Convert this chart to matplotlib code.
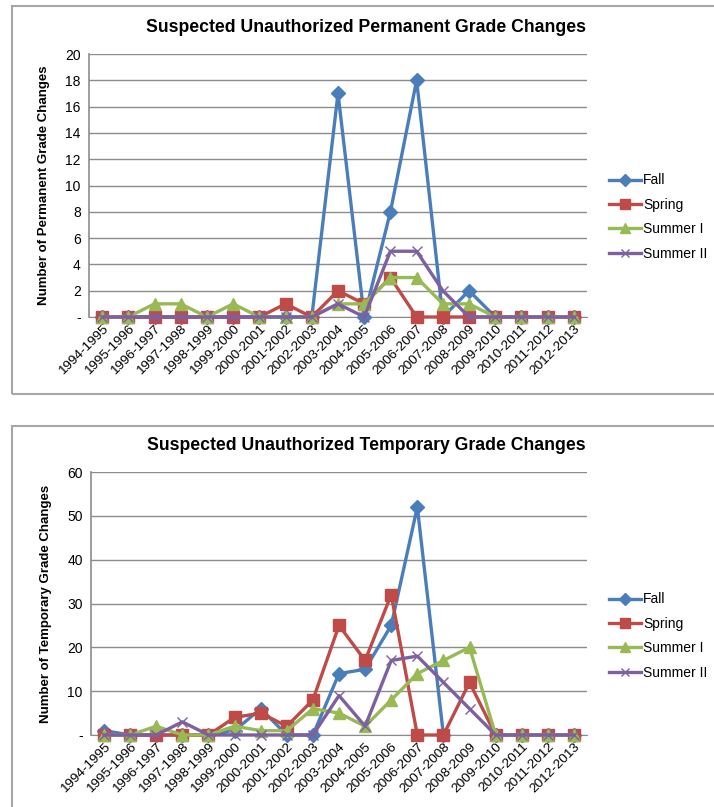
import matplotlib
matplotlib.use("Agg")
import matplotlib.pyplot as plt
from matplotlib.patches import Rectangle

plt.rcParams['font.family'] = ['Liberation Sans', 'DejaVu Sans']

years = ["1994-1995", "1995-1996", "1996-1997", "1997-1998", "1998-1999", "1999-2000",
         "2000-2001", "2001-2002", "2002-2003", "2003-2004", "2004-2005", "2005-2006",
         "2006-2007", "2007-2008", "2008-2009", "2009-2010", "2010-2011", "2011-2012",
         "2012-2013"]
series_names = ["Fall", "Spring", "Summer I", "Summer II"]

perm_fall = [0, 0, 0, 0, 0, 0, 0, 0, 0, 17, 0, 8, 18, 0, 2, 0, 0, 0, 0]
perm_spring = [0, 0, 0, 0, 0, 0, 0, 1, 0, 2, 1, 3, 0, 0, 0, 0, 0, 0, 0]
perm_summer1 = [0, 0, 1, 1, 0, 1, 0, 0, 0, 1, 1, 3, 3, 1, 1, 0, 0, 0, 0]
perm_summer2 = [0, 0, 0, 0, 0, 0, 0, 0, 0, 1, 0, 5, 5, 2, 0, 0, 0, 0, 0]

temp_fall = [1, 0, 0, 0, 0, 1, 6, 0, 0, 14, 15, 25, 52, 0, None, 0, 0, 0, 0]
temp_spring = [0, 0, 0, 0, 0, 4, 5, 2, 8, 25, 17, 32, 0, 0, 12, 0, 0, 0, 0]
temp_summer1 = [0, 0, 2, 0, 0, 2, 1, 1, 6, 5, 2, 8, 14, 17, 20, 0, 0, 0, 0]
temp_summer2 = [0, 0, 0, 3, 0, 0, 0, 0, 0, 9, 2, 17, 18, 12, 6, 0, 0, 0, 0]

perm_ticks = [0, 2, 4, 6, 8, 10, 12, 14, 16, 18, 20]
temp_ticks = [0, 10, 20, 30, 40, 50, 60]

colors = ["#4A7EBB", "#BE4B48", "#98B954", "#7D60A0"]
markers = ["D", "s", "^", "x"]
msizes = [7.5, 8.5, 8.5, 7.5]

W, H = 714, 807
fig = plt.figure(figsize=(W / 100, H / 100), dpi=100)

def px_axes(l, t, r, b):
    return fig.add_axes([l / W, 1 - b / H, (r - l) / W, (b - t) / H])

def box(l, t, r, b):
    fig.patches.append(Rectangle((l / W, 1 - b / H), (r - l) / W, (b - t) / H,
                                 transform=fig.transFigure, fill=False,
                                 edgecolor="#A6A6A6", linewidth=1.5))

def draw(ax, data, ticks, title, ylabel, title_y, legend_y):
    x = list(range(len(years)))
    for vals, c, m, ms, name in zip(data, colors, markers, msizes, series_names):
        yv = [float('nan') if v is None else v for v in vals]
        ax.plot(x, yv, color=c, marker=m, markersize=ms, linewidth=2.4,
                markeredgewidth=1.0, label=name, clip_on=False, zorder=3)
    ax.set_xlim(-0.5, len(years) - 0.5)
    ax.set_ylim(ticks[0], ticks[-1])
    ax.set_yticks(ticks)
    ax.set_yticklabels(["-" if t == 0 else str(t) for t in ticks], fontsize=10)
    ax.set_xticks(x)
    ax.set_xticklabels(years, rotation=45, ha="right", rotation_mode="anchor", fontsize=9.7)
    ax.tick_params(axis="both", length=0, pad=6)
    ax.tick_params(axis="x", pad=4)
    ax.grid(axis="y", color="#8C8C8C", linewidth=1.0)
    ax.set_axisbelow(True)
    for s in ["top", "right"]:
        ax.spines[s].set_visible(False)
    ax.spines["left"].set_color("#8C8C8C")
    ax.spines["bottom"].set_color("#8C8C8C")
    ax.spines["left"].set_linewidth(1.2)
    ax.set_ylabel(ylabel, fontsize=9.5, fontweight="bold", labelpad=11)
    fig.text(366 / W, 1 - title_y / H, title, ha="center", va="center",
             fontsize=12.7, fontweight="bold")
    leg_handles = []
    for c, m, ms, name in zip(colors, markers, msizes, series_names):
        lh, = ax.plot([], [], color=c, marker=m, markersize=ms * 0.85, linewidth=2.4,
                      markeredgewidth=1.0, label=name)
        leg_handles.append(lh)
    fig.legend(handles=leg_handles, loc="center left",
               bbox_to_anchor=(609 / W, 1 - legend_y / H), frameon=False,
               fontsize=10, handlelength=2.3, handletextpad=0.15, labelspacing=0.75,
               borderpad=0, borderaxespad=0)

ax1 = px_axes(89, 54, 587, 317)
draw(ax1, [perm_fall, perm_spring, perm_summer1, perm_summer2], perm_ticks,
     "Suspected Unauthorized Permanent Grade Changes",
     "Number of Permanent Grade Changes", 27, 217)

ax2 = px_axes(91, 472, 587, 735)
draw(ax2, [temp_fall, temp_spring, temp_summer1, temp_summer2], temp_ticks,
     "Suspected Unauthorized Temporary Grade Changes",
     "Number of Temporary Grade Changes", 446, 636)

box(12, 6, 730, 394)
box(12, 426, 730, 830)

fig.savefig("out.png", dpi=100)
